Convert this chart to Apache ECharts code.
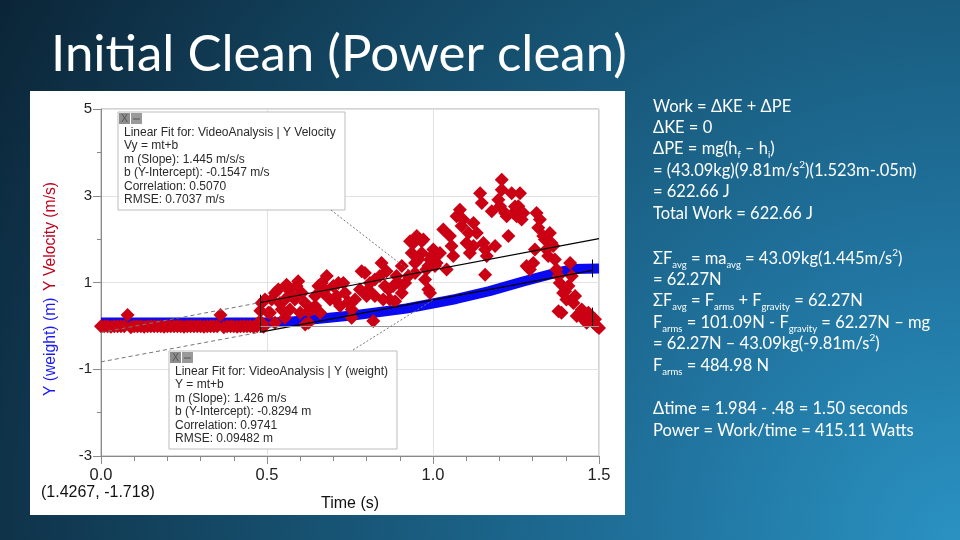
<!DOCTYPE html>
<html><head><meta charset="utf-8">
<script src="https://cdn.jsdelivr.net/npm/echarts@6/dist/echarts.min.js"></script>
<style>html,body{margin:0;padding:0;width:960px;height:540px;overflow:hidden;background:#0e2b40}#c{width:960px;height:540px}</style>
</head><body><div id="c"></div><script>
// ---- data ----
const titleText = 'Initial Clean (Power clean)';
const xAxisName = 'Time (s)';
const cursorReadout = '(1.4267, -1.718)';
const weightAxisName = 'Y (weight) (m)';
const velocityAxisName = 'Y Velocity (m/s)';

// Y (weight) (m) — blue trace
const weightTimes  = [0.00, 0.48, 0.56, 0.65, 0.77, 0.92, 1.07, 1.17, 1.27, 1.37, 1.42, 1.50];
const weightValues = [0.08, 0.08, 0.09, 0.16, 0.25, 0.40, 0.62, 0.80, 1.02, 1.22, 1.31, 1.32];

// Y Velocity (m/s) — red points [t, v]
const velocityPoints = [
 [0.00,-0.01],[0.01,-0.01],[0.02,-0.01],[0.03,-0.02],[0.04,-0.01],[0.05,-0.01],[0.06,-0.01],[0.07,-0.01],
 [0.08,0.25],[0.09,-0.03],[0.10,-0.01],[0.11,-0.01],[0.12,-0.01],[0.13,-0.02],[0.14,-0.01],[0.15,-0.01],
 [0.16,-0.01],[0.17,-0.01],[0.18,-0.01],[0.19,-0.02],[0.20,-0.01],[0.21,-0.01],[0.22,-0.01],[0.23,-0.01],
 [0.24,-0.01],[0.25,-0.02],[0.26,-0.01],[0.27,-0.01],[0.28,-0.01],[0.29,-0.01],[0.30,-0.01],[0.31,-0.02],
 [0.32,-0.01],[0.33,-0.01],[0.34,-0.01],[0.35,-0.01],[0.36,0.25],[0.37,-0.03],[0.38,-0.01],[0.39,-0.01],
 [0.40,-0.01],[0.41,-0.02],[0.42,-0.01],[0.43,-0.01],[0.44,-0.01],[0.45,-0.01],[0.46,-0.02],[0.47,-0.01],
 [0.474,0.07],[0.48,0.35],[0.484,0.53],[0.484,0.07],[0.49,-0.02],[0.494,0.61],[0.504,0.30],[0.509,0.30],
 [0.514,0.61],[0.524,0.07],[0.524,0.76],[0.534,0.84],[0.539,0.53],[0.544,0.38],[0.554,0.61],[0.554,0.19],
 [0.559,0.95],[0.564,0.84],[0.569,0.38],[0.574,0.72],[0.584,0.61],[0.589,0.92],[0.594,1.03],[0.60,0.30],
 [0.605,0.76],[0.615,0.53],[0.615,0.03],[0.625,0.07],[0.625,0.34],[0.635,0.38],[0.645,0.69],[0.645,0.46],
 [0.655,0.92],[0.66,0.30],[0.665,0.99],[0.67,0.76],[0.675,0.84],[0.68,1.15],[0.69,0.61],[0.70,0.92],
 [0.705,0.61],[0.71,0.69],[0.715,0.99],[0.72,0.46],[0.73,0.99],[0.735,0.76],[0.745,0.55],[0.745,0.53],
 [0.755,0.38],[0.755,0.19],[0.765,0.61],[0.78,0.84],[0.785,1.26],[0.795,1.22],[0.80,0.69],[0.805,0.84],
 [0.81,0.99],[0.82,0.11],[0.825,0.69],[0.825,1.07],[0.84,1.15],[0.845,1.45],[0.85,0.61],[0.855,0.92],
 [0.86,1.26],[0.866,0.84],[0.87,0.61],[0.88,0.92],[0.886,0.57],[0.89,1.15],[0.896,0.99],[0.906,1.38],
 [0.906,0.76],[0.916,0.99],[0.926,1.15],[0.931,1.95],[0.936,1.68],[0.941,1.91],[0.946,1.45],[0.946,1.22],
 [0.951,2.07],[0.956,1.53],[0.966,1.95],[0.966,1.68],[0.971,1.99],[0.976,1.07],[0.98,1.30],[0.986,0.84],
 [0.986,1.38],[0.991,1.53],[0.991,0.76],[0.996,1.61],[1.001,1.76],[1.006,1.38],[1.011,1.45],[1.021,1.68],
 [1.031,2.22],[1.041,1.30],[1.051,2.07],[1.056,1.84],[1.061,1.61],[1.071,2.53],[1.081,2.68],[1.086,2.30],
 [1.091,2.45],[1.101,1.91],[1.107,2.14],[1.111,1.68],[1.122,2.37],[1.122,1.84],[1.132,2.14],[1.142,3.06],
 [1.147,2.83],[1.152,1.91],[1.157,1.18],[1.157,1.76],[1.162,1.61],[1.177,2.64],[1.187,1.84],[1.197,2.91],
 [1.202,2.76],[1.207,3.37],[1.207,3.14],[1.217,2.60],[1.222,2.53],[1.227,2.07],[1.237,3.06],[1.242,2.60],
 [1.247,2.75],[1.252,2.53],[1.257,2.76],[1.262,3.06],[1.267,2.45],[1.272,2.60],[1.282,1.38],[1.287,1.34],
 [1.292,1.30],[1.302,1.45],[1.307,1.76],[1.312,2.60],[1.317,2.26],[1.322,2.45],[1.332,2.07],[1.337,1.99],
 [1.342,1.76],[1.347,1.61],[1.352,2.14],[1.357,1.91],[1.362,1.84],[1.367,1.53],[1.372,1.30],[1.378,0.34],
 [1.378,1.15],[1.382,0.99],[1.387,0.30],[1.392,0.76],[1.398,0.80],[1.402,0.61],[1.408,0.92],[1.413,1.45],
 [1.418,1.15],[1.423,0.53],[1.428,0.69],[1.433,0.23],[1.443,0.30],[1.448,0.38],[1.453,0.15],[1.463,0.07],
 [1.468,0.30],[1.473,0.23],[1.483,0.07],[1.488,0.15],[1.493,0.00],[1.50,-0.05]
];

// linear fits
const velocityFit = {m: 1.445, b: -0.1547, t0: 0.48, t1: 1.50};
const weightFit   = {m: 1.426, b: -0.8294, t0: 0.48, t1: 1.48};

const velocityFitLines = ['Linear Fit for: VideoAnalysis | Y Velocity','Vy = mt+b','m (Slope): 1.445 m/s/s',
  'b (Y-Intercept): -0.1547 m/s','Correlation: 0.5070','RMSE: 0.7037 m/s'];
const weightFitLines = ['Linear Fit for: VideoAnalysis | Y (weight)','Y = mt+b','m (Slope): 1.426 m/s',
  'b (Y-Intercept): -0.8294 m','Correlation: 0.9741','RMSE: 0.09482 m'];

const noteLines = [
  'Work = ΔKE + ΔPE',
  'ΔKE = 0',
  'ΔPE = mg(h{s|f} – h{s|i})',
  '= (43.09kg)(9.81m/s{p|2})(1.523m-.05m)',
  '= 622.66 J',
  'Total Work = 622.66 J',
  'ΣF{s|avg} = ma{s|avg} = 43.09kg(1.445m/s{p|2})',
  '= 62.27N',
  'ΣF{s|avg} = F{s|arms} + F{s|gravity} = 62.27N',
  'F{s|arms} = 101.09N - F{s|gravity} = 62.27N – mg',
  '= 62.27N – 43.09kg(-9.81m/s{p|2})',
  'F{s|arms} = 484.98 N',
  'Δtime = 1.984 - .48 = 1.50 seconds',
  'Power = Work/time = 415.11 Watts'
];
const noteY = [106.5, 128, 149, 170.5, 192, 213.5, 259, 279.5, 301, 322.5, 344, 366, 408.5, 431];

// ---- chart ----
const chart = echarts.init(document.getElementById('c'), null, {renderer: 'canvas'});
const fitSeg = (f, a, b) => [[a, f.m * a + f.b], [b, f.m * b + f.b]];
const AX = '#8a8a8a';

chart.setOption({
  animation: false,
  backgroundColor: {type: 'radial', x: 1, y: 1, r: 2.05, colorStops: [
    {offset: 0, color: '#2a92c2'}, {offset: 0.3, color: '#1f709a'},
    {offset: 0.6, color: '#16506f'}, {offset: 1, color: '#0b2436'}]},
  grid: {left: 101, right: 361, top: 109, bottom: 84, show: true, borderColor: '#a8a8a8', borderWidth: 1,
         containLabel: false, outerBoundsMode: 'none'},
  xAxis: {type: 'value', min: 0, max: 1.5, interval: 0.5,
    axisLine: {onZero: false, lineStyle: {color: AX}},
    axisTick: {length: 8, lineStyle: {color: AX}},
    minorTick: {show: true, splitNumber: 5, length: 5, lineStyle: {color: AX}},
    splitLine: {show: true, lineStyle: {color: '#e2e2e2'}},
    axisLabel: {formatter: v => v.toFixed(1), fontSize: 16.5, color: '#222', fontFamily: 'Liberation Sans', margin: 11},
    name: xAxisName, nameLocation: 'middle', nameGap: 40,
    nameTextStyle: {fontSize: 16, color: '#111', fontFamily: 'Liberation Sans'}},
  yAxis: {type: 'value', min: -3, max: 5, interval: 2,
    axisLine: {show: true, onZero: false, lineStyle: {color: AX}},
    axisTick: {show: true, length: 8, lineStyle: {color: AX}},
    minorTick: {show: true, splitNumber: 2, length: 4, lineStyle: {color: AX}},
    splitLine: {show: true, lineStyle: {color: '#e2e2e2'}},
    axisLabel: {fontSize: 15, color: '#222', fontFamily: 'Liberation Sans', margin: 9}},
  series: [
    {type: 'line', name: weightAxisName, data: weightTimes.map((t, i) => [t, weightValues[i]]),
     showSymbol: false, symbol: 'none', lineStyle: {width: 10, color: '#0a0af2'}, z: 2, silent: true},
    {type: 'scatter', name: velocityAxisName, data: velocityPoints, symbol: 'diamond', symbolSize: 14,
     itemStyle: {color: '#cc0014', opacity: 1, borderWidth: 0}, z: 3, silent: true},
    {type: 'line', data: fitSeg(velocityFit, velocityFit.t0, velocityFit.t1), symbol: 'none',
     lineStyle: {color: '#000', width: 1.2}, z: 4, silent: true},
    {type: 'line', data: fitSeg(velocityFit, 0, velocityFit.t0), symbol: 'none',
     lineStyle: {color: '#777', width: 1, type: [4, 3]}, z: 4, silent: true},
    {type: 'line', data: fitSeg(weightFit, weightFit.t0, weightFit.t1), symbol: 'none',
     lineStyle: {color: '#000', width: 1.2}, z: 4, silent: true},
    {type: 'line', data: fitSeg(weightFit, 0, weightFit.t0), symbol: 'none',
     lineStyle: {color: '#777', width: 1, type: [4, 3]}, z: 4, silent: true,
     markLine: {symbol: 'none', silent: true, label: {show: false}, lineStyle: {type: 'solid', color: '#000', width: 1},
       data: [
         [{coord: [0.48, -0.15]}, {coord: [0.48, 0.72]}],
         [{coord: [1.48, 1.12]}, {coord: [1.48, 1.53]}],
         [{coord: [1.48, -0.03]}, {coord: [1.48, 0.42]}],
         [{coord: [0.48, 0], lineStyle: {color: '#999', type: 'solid', width: 1}}, {coord: [1.5, 0]}]
       ]}}
  ]
});

// ---- decorations ----
const pV = chart.convertToPixel({gridIndex: 0}, [0.94, velocityFit.m * 0.94 + velocityFit.b]);
const pW = chart.convertToPixel({gridIndex: 0}, [1.0, weightFit.m * 1.0 + weightFit.b]);

function fitBox(x, y, w, h, lines) {
  const children = [
    {type: 'rect', shape: {x: x, y: y, width: w, height: h}, style: {fill: '#fff', stroke: '#bdbdbd', lineWidth: 1}},
    {type: 'rect', shape: {x: x + 1, y: y + 1, width: 11, height: 11}, style: {fill: '#8e8e8e'}},
    {type: 'rect', shape: {x: x + 13, y: y + 1, width: 11, height: 11}, style: {fill: '#9a9a9a'}},
    {type: 'text', x: x + 6.5, y: y + 7, style: {text: 'X', fontSize: 10, fontFamily: 'Liberation Sans', fill: '#555', align: 'center', verticalAlign: 'middle'}},
    {type: 'line', shape: {x1: x + 15, y1: y + 7, x2: x + 22, y2: y + 7}, style: {stroke: '#555', lineWidth: 1}}
  ];
  lines.forEach((s, i) => children.push({type: 'text', x: x + 6, y: y + 20.5 + i * 13.5,
    style: {text: s, fontSize: 12, fontFamily: 'Liberation Sans', fill: '#2a2a2a', verticalAlign: 'middle'}}));
  return {type: 'group', z: 100, children: children};
}

const richStyles = {
  s: {fontSize: 9.5, fontFamily: 'Lato', fill: '#fff', verticalAlign: 'bottom', lineHeight: 12},
  p: {fontSize: 10, fontFamily: 'Lato', fill: '#fff', verticalAlign: 'top', lineHeight: 13}
};

const graphics = [
  {type: 'rect', z: -1, shape: {x: 30, y: 91, width: 595, height: 424}, style: {fill: '#ffffff'}},
  {type: 'text', z: 10, x: 51, y: 55, style: {text: titleText, fontSize: 51, fontFamily: 'Lato', fill: '#ffffff', verticalAlign: 'middle'}},
  {type: 'text', z: 10, x: 41, y: 493, style: {text: cursorReadout, fontSize: 16, fontFamily: 'Liberation Sans', fill: '#111', verticalAlign: 'middle'}},
  {type: 'text', z: 10, x: 51, y: 289, rotation: Math.PI / 2,
   style: {text: '{b|' + weightAxisName + '}  {r|' + velocityAxisName + '}', align: 'center', verticalAlign: 'middle',
     rich: {b: {fontSize: 15.7, fontFamily: 'Liberation Sans', fill: '#1a1aef'}, r: {fontSize: 15.7, fontFamily: 'Liberation Sans', fill: '#c0001a'}}}},
  {type: 'line', z: 50, shape: {x1: 331, y1: 210, x2: pV[0], y2: pV[1]}, style: {stroke: '#777', lineWidth: 1, lineDash: [2, 2]}},
  {type: 'line', z: 50, shape: {x1: 353, y1: 350, x2: pW[0], y2: pW[1]}, style: {stroke: '#777', lineWidth: 1, lineDash: [2, 2]}},
  fitBox(118, 112, 227, 98, velocityFitLines),
  fitBox(169, 351, 228, 98, weightFitLines)
];
noteLines.forEach((s, i) => graphics.push({type: 'text', z: 10, x: 653, y: noteY[i],
  style: {text: s, fontSize: 16.5, fontFamily: 'Lato', fill: '#ffffff', verticalAlign: 'middle', lineHeight: 22, rich: richStyles}}));

chart.setOption({graphic: {elements: graphics}});
</script></body></html>
